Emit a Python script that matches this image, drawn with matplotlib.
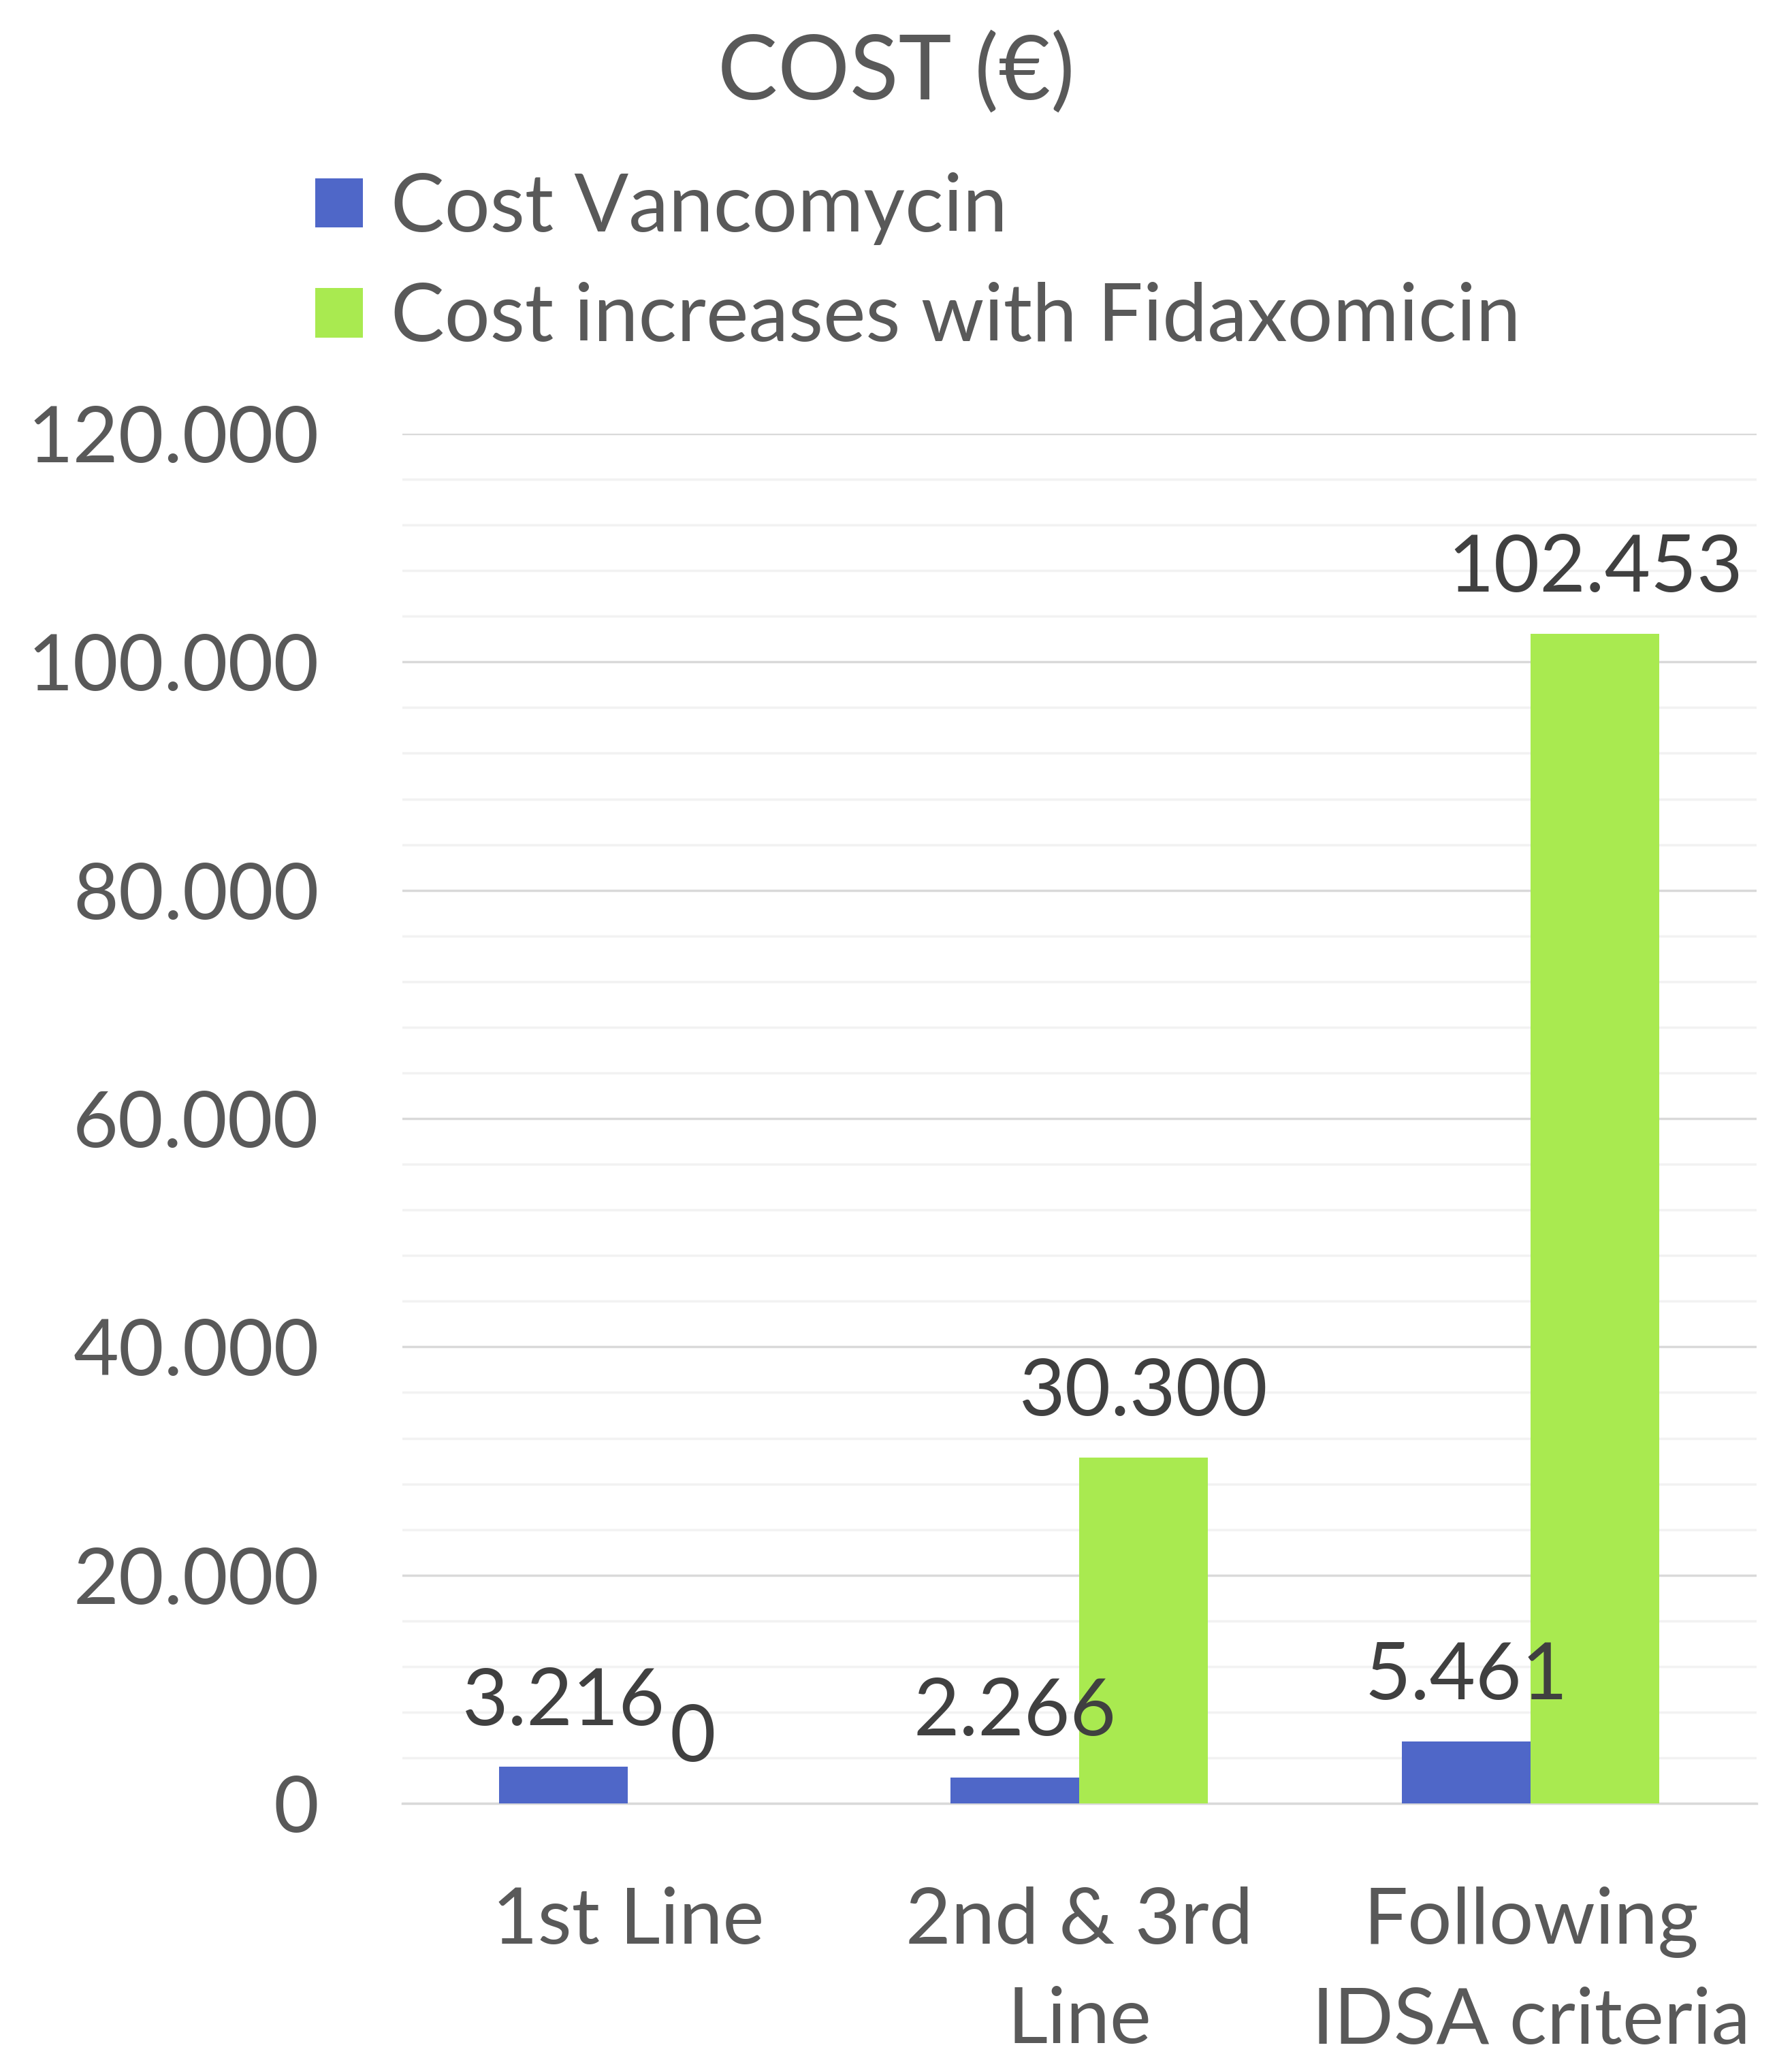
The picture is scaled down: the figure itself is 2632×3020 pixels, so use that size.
import matplotlib.pyplot as plt
import numpy as np

# data
categorias = ['1st Line', '2nd & 3rd\nLine', 'Following\nIDSA criteria']
costo_vanco = [3216, 2266, 5461]
costo_fidax = [0, 30300, 102453]
series = ['Cost Vancomycin', 'Cost increases with Fidaxomicin']

azul = '#4F67C8'
verde = '#A9EA50'
gris = '#595959'

plt.rcParams['font.family'] = ['Lato', 'DejaVu Sans']

def Miles(v):
    return '{:,.0f}'.format(v).replace(',', '.')

fig = plt.figure(figsize=(26.32, 30.20), dpi=100)
ax = fig.add_axes([0.2245, 0.1228, 0.7557, 0.6663])

x = np.arange(len(categorias))
ancho = 0.285
b1 = ax.bar(x - ancho / 2, costo_vanco, ancho, color=azul, label=series[0], zorder=3)
b2 = ax.bar(x + ancho / 2, costo_fidax, ancho, color=verde, label=series[1], zorder=3)

for barras in (b1, b2):
    ax.bar_label(barras, labels=[Miles(v) for v in barras.datavalues],
                 padding=30, fontsize=84, color='#404040')

#Ejes y grilla
ax.set_xlim(-0.5, 2.5)
ax.set_ylim(0, 120000)
ax.set_yticks(np.arange(0, 120001, 20000))
ax.set_yticks(np.arange(0, 120001, 4000), minor=True)
ax.yaxis.set_major_formatter(plt.FuncFormatter(lambda v, p: Miles(v)))
ax.grid(axis='y', which='major', color='#D9D9D9', linewidth=2.5, zorder=0)
ax.grid(axis='y', which='minor', color='#F2F2F2', linewidth=2.5, zorder=0)
for s in ['top', 'right', 'left']:
    ax.spines[s].set_visible(False)
ax.spines['bottom'].set_color('#D9D9D9')
ax.spines['bottom'].set_linewidth(2.5)
ax.tick_params(axis='both', which='both', length=0, labelsize=83, labelcolor=gris)
ax.tick_params(axis='y', pad=88)
ax.tick_params(axis='x', pad=88)
ax.set_xticks(x)
ax.set_xticklabels(categorias, linespacing=1.5, va='top')

fig.text(0.5, 1 - 108 / 3020, 'COST (€)', ha='center', va='center', fontsize=95, color=gris)

fig.legend(handles=[b1, b2], loc='upper left', bbox_to_anchor=(0.158, 0.932),
           frameon=False, fontsize=85, labelcolor=gris, handlelength=0.59,
           handleheight=0.57, handletextpad=0.35, labelspacing=0.46, borderaxespad=0)

plt.savefig('out.png')
plt.close()
